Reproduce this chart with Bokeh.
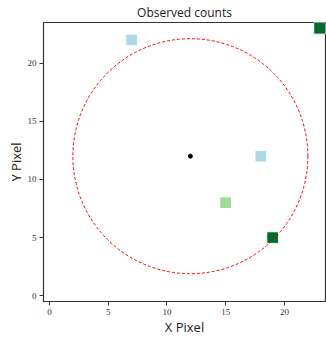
from bokeh.plotting import figure
from bokeh.models import FixedTicker
from bokeh.embed import file_html
from bokeh.resources import INLINE

# Data
px_x = [7, 23, 18, 15, 19]
px_y = [22, 23, 12, 8, 5]
px_color = ["#add8e6", "#006d2c", "#add8e6", "#a1d99b", "#006d2c"]
center_x = [12]
center_y = [12]
radius = [10]
ticks = [0, 5, 10, 15, 20]

p = figure(width=326, height=338,
           x_range=(-0.5, 23.5), y_range=(-0.5, 23.5),
           min_border_left=43, min_border_right=1, min_border_top=0, min_border_bottom=0,
           toolbar_location=None, output_backend="svg",
           title="Observed counts", x_axis_label="X Pixel", y_axis_label="Y Pixel")

p.rect(x=px_x, y=px_y, width=1, height=1, fill_color=px_color, line_color="white", line_width=1)
p.circle(x=center_x, y=center_y, radius=radius, fill_color=None, line_color="red",
         line_dash="3 2", line_width=1)
p.scatter(x=center_x, y=center_y, size=4, color="black")

p.xgrid.visible = False
p.ygrid.visible = False
p.outline_line_color = "#333333"
p.outline_line_width = 1.2
p.title.align = "center"
p.title.text_font = "Open Sans"
p.title.text_font_size = "12px"
p.title.text_font_style = "normal"
p.title.text_color = "#222222"
p.title.offset = 0
p.title.standoff = 3
for ax in (p.xaxis[0], p.yaxis[0]):
    ax.ticker = FixedTicker(ticks=ticks)
    ax.major_tick_out = 4
    ax.major_tick_in = 0
    ax.minor_tick_line_color = None
    ax.major_label_text_font = "Liberation Serif"
    ax.major_label_text_font_size = "9px"
    ax.major_label_text_color = "#333333"
    ax.major_label_standoff = 3
    ax.axis_line_color = "#333333"
    ax.major_tick_line_color = "#333333"
    ax.axis_label_text_font = "Open Sans"
    ax.axis_label_text_font_size = "13px"
    ax.axis_label_text_font_style = "normal"
    ax.axis_label_text_color = "#222222"
    ax.axis_label_standoff = 0
p.yaxis[0].major_label_orientation = "horizontal"

open("out.html", "w").write(file_html(p, INLINE))
